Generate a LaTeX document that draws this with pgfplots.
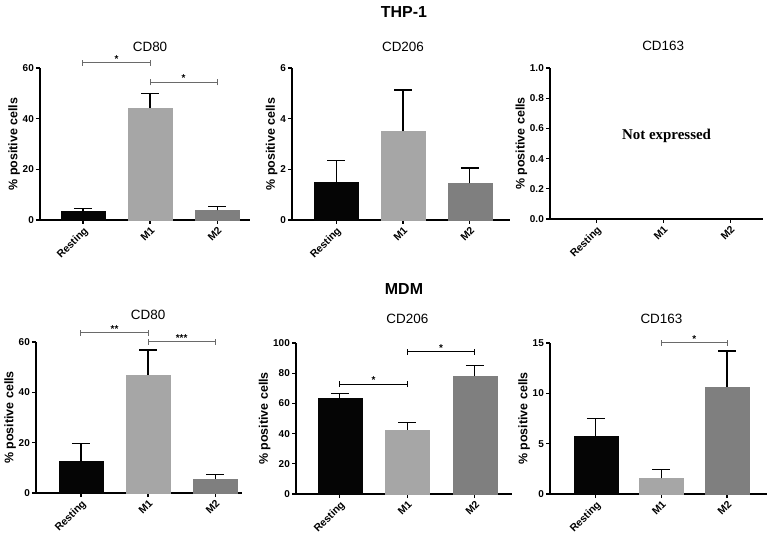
\documentclass[border=0pt]{standalone}
\usepackage{pgfplots}
\pgfplotsset{compat=1.18}
\usepackage{fontspec}
\setmainfont{Liberation Sans}
\newfontfamily\timesf{Liberation Serif}

\definecolor{cR}{HTML}{050505}
\definecolor{cM1}{HTML}{A6A6A6}
\definecolor{cM2}{HTML}{7F7F7F}
\definecolor{brk}{HTML}{6A6A6A}

\pgfplotsset{
  panel/.style={
    scale only axis, anchor=south west,
    axis x line*=bottom, axis y line*=left,
    axis line style={line width=1.3bp, black},
    every tick/.style={line width=1.2bp, black},
    major tick length=4bp, tick align=outside,
    xtick={0,1,2}, xticklabels={Resting,M1,M2},
    xticklabel style={rotate=45, anchor=north east, font=\bfseries\fontsize{10.5}{12}\selectfont, inner sep=1.5bp},
    yticklabel style={font=\bfseries\fontsize{10}{12}\selectfont, inner sep=2bp},
    /pgf/number format/assume math mode=true,
    ymin=0,
    ylabel={\% positive cells},
    ylabel style={font=\bfseries\fontsize{12.5}{14}\selectfont, inner sep=0.5bp},
    clip=false,
  },
  ebar/.style={
    error bars/y dir=plus, error bars/y explicit,
    error bars/error bar style={line width=1.2bp, black},
    error bars/error mark options={rotate=90, mark size=9bp, line width=1.2bp, black},
  },
  bR/.style={fill=cR, draw=cR, bar shift=0pt, bar width=44bp, ebar},
  bM1/.style={fill=cM1, draw=cM1, bar shift=0pt, bar width=44bp, ebar},
  bM2/.style={fill=cM2, draw=cM2, bar shift=0pt, bar width=44bp, ebar},
}
\newcommand{\ptitle}[3]{\node[font=\fontsize{13.5}{16}\selectfont, yshift=#3] at (#1) {#2};}
% bracket: x1, x2, xm, y, stars, color
\newcommand{\sig}[6]{%
  \draw[#6, line width=1bp] (axis cs:#1,#4) -- (axis cs:#2,#4);
  \draw[#6, line width=1bp] ([yshift=-3bp]axis cs:#1,#4) -- ([yshift=3bp]axis cs:#1,#4);
  \draw[#6, line width=1bp] ([yshift=-3bp]axis cs:#2,#4) -- ([yshift=3bp]axis cs:#2,#4);
  \node[anchor=south, inner sep=0.5bp, font=\bfseries\fontsize{10}{12}\selectfont] at (axis cs:#3,#4) {#5};
}

\begin{document}
\begin{tikzpicture}
\useasboundingbox (0,0) rectangle (777bp,540bp);

\node[font=\bfseries\fontsize{16}{19}\selectfont] at (404bp,528bp) {THP-1};
\node[font=\bfseries\fontsize{16}{19}\selectfont] at (404bp,251bp) {MDM};

% ---- THP-1 CD80
\begin{axis}[panel, at={(40bp,320bp)}, width=210bp, height=152bp,
  xmin=-0.64, xmax=2.49, ymax=60, ytick={0,20,40,60}, ybar]
\addplot[bR] coordinates {(0,3.5) +- (0,0.9)};
\addplot[bM1] coordinates {(1,44.2) +- (0,5.6)};
\addplot[bM2] coordinates {(2,3.8) +- (0,1.4)};
\sig{0}{1}{0.5}{62}{*}{brk}
\sig{1}{2}{1.5}{54.3}{*}{brk}
\ptitle{axis cs:1,60}{CD80}{21bp}
\end{axis}

% ---- THP-1 CD206
\begin{axis}[panel, at={(292bp,320bp)}, width=218bp, height=152bp,
  xmin=-0.66, xmax=2.6, ymax=6, ytick={0,2,4,6}, ybar]
\addplot[bR] coordinates {(0,1.49) +- (0,0.87)};
\addplot[bM1] coordinates {(1,3.5) +- (0,1.63)};
\addplot[bM2] coordinates {(2,1.45) +- (0,0.6)};
\ptitle{axis cs:1,6}{CD206}{21bp}
\end{axis}

% ---- THP-1 CD163
\begin{axis}[panel, at={(550bp,321bp)}, width=213bp, height=151bp,
  xmin=-0.69, xmax=2.49, ymax=1, ytick={0,0.2,0.4,0.6,0.8,1.0},
  yticklabel style={/pgf/number format/.cd, fixed, fixed zerofill, precision=1}]
\addplot[draw=none, forget plot] coordinates {(0,0) (2,0)};
\node[font=\timesf\bfseries\fontsize{15}{18}\selectfont] at (axis cs:1.05,0.55) {Not expressed};
\ptitle{axis cs:1,1}{CD163}{22bp}
\end{axis}

% ---- MDM CD80
\begin{axis}[panel, at={(36bp,47bp)}, width=206bp, height=151bp,
  xmin=-0.67, xmax=2.4, ymax=60, ytick={0,20,40,60}, ybar]
\addplot[bR] coordinates {(0,12.5) +- (0,7.3)};
\addplot[bM1] coordinates {(1,46.8) +- (0,10.0)};
\addplot[bM2] coordinates {(2,5.5) +- (0,2.0)};
\sig{0}{1}{0.5}{63.6}{**}{brk}
\sig{1}{2}{1.5}{60}{***}{brk}
\ptitle{axis cs:1,60}{CD80}{27bp}
\end{axis}

% ---- MDM CD206
\begin{axis}[panel, at={(296bp,46bp)}, width=216bp, height=151bp,
  xmin=-0.65, xmax=2.55, ymax=100, ytick={0,20,40,60,80,100}, ybar]
\addplot[bR] coordinates {(0,63.2) +- (0,3.4)};
\addplot[bM1] coordinates {(1,42.5) +- (0,4.7)};
\addplot[bM2] coordinates {(2,78.1) +- (0,7.1)};
\sig{0}{1}{0.5}{72.8}{*}{black}
\sig{1}{2}{1.5}{94.2}{*}{black}
\ptitle{axis cs:1,100}{CD206}{24bp}
\end{axis}

% ---- MDM CD163
\begin{axis}[panel, at={(550bp,46bp)}, width=217bp, height=151bp,
  xmin=-0.70, xmax=2.61, ymax=15, ytick={0,5,10,15}, ybar]
\addplot[bR] coordinates {(0,5.76) +- (0,1.74)};
\addplot[bM1] coordinates {(1,1.56) +- (0,0.89)};
\addplot[bM2] coordinates {(2,10.65) +- (0,3.55)};
\sig{1}{2}{1.5}{15}{*}{brk}
\ptitle{axis cs:1,15}{CD163}{24bp}
\end{axis}
\end{tikzpicture}
\end{document}
